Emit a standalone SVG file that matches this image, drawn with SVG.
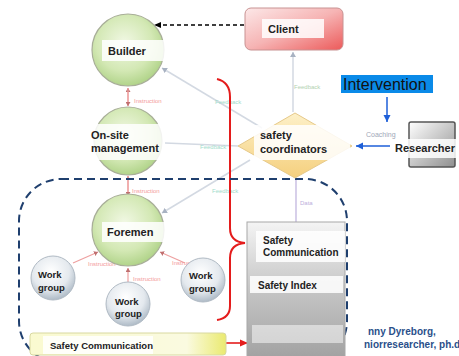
<svg xmlns="http://www.w3.org/2000/svg" width="459" height="356" viewBox="0 0 459 356">
<style>
.lbl{font-family:"Liberation Sans",Arial,sans-serif;font-weight:bold;fill:#222;}
.box{fill:#fff;opacity:0.85;}
.faint{font-family:"Liberation Sans",Arial,sans-serif;font-size:6px;}
.fb{fill:#9fdccb;}
.ins{fill:#f39a9a;}
.conn{stroke:#d3d9e2;stroke-width:1.5;fill:none;}
.red{stroke:#eea0a0;stroke-width:1.2;fill:none;}
</style>
<defs>
<radialGradient id="green" cx="0.45" cy="0.4" r="0.65">
<stop offset="0" stop-color="#f1f8e4"/><stop offset="0.6" stop-color="#d3e8b4"/><stop offset="1" stop-color="#a9cf80"/>
</radialGradient>
<radialGradient id="grey" cx="0.45" cy="0.35" r="0.7">
<stop offset="0" stop-color="#ffffff"/><stop offset="0.6" stop-color="#e4e9ee"/><stop offset="1" stop-color="#a3b1be"/>
</radialGradient>
<linearGradient id="client" x1="0" y1="0" x2="1" y2="1">
<stop offset="0" stop-color="#fce8e8"/><stop offset="0.5" stop-color="#f6b4b4"/><stop offset="1" stop-color="#ec5a5a"/>
</linearGradient>
<linearGradient id="res" x1="0" y1="0" x2="1" y2="1">
<stop offset="0" stop-color="#ffffff"/><stop offset="1" stop-color="#8f8f8f"/>
</linearGradient>
<linearGradient id="dia" x1="0" y1="0" x2="0" y2="1">
<stop offset="0" stop-color="#fdf0c8"/><stop offset="1" stop-color="#f5d07e"/>
</linearGradient>
<linearGradient id="panel" x1="0" y1="0" x2="0" y2="1">
<stop offset="0" stop-color="#f4f4f4"/><stop offset="0.5" stop-color="#c4c4c4"/><stop offset="1" stop-color="#a0a0a0"/>
</linearGradient>
<linearGradient id="bar" x1="0" y1="0" x2="1" y2="0">
<stop offset="0" stop-color="#fafad0"/><stop offset="0.8" stop-color="#fafae0"/><stop offset="1" stop-color="#eaea70"/>
</linearGradient>
<marker id="blk" markerWidth="8" markerHeight="8" refX="7" refY="4" orient="auto" markerUnits="userSpaceOnUse"><path d="M0,1 L7,4 L0,7 z" fill="#000"/></marker>
<marker id="blu" markerWidth="8" markerHeight="8" refX="7" refY="4" orient="auto" markerUnits="userSpaceOnUse"><path d="M0,0.5 L7,4 L0,7.5 z" fill="#1e5fd8"/></marker>
<marker id="rd" markerWidth="9" markerHeight="9" refX="8" refY="4.5" orient="auto" markerUnits="userSpaceOnUse"><path d="M0,1 L8,4.5 L0,8 z" fill="#e41c1c"/></marker>
<marker id="gy" markerWidth="6" markerHeight="6" refX="5" refY="3" orient="auto" markerUnits="userSpaceOnUse"><path d="M0,0 L5,3 L0,6 z" fill="#a8b2c2"/></marker>
<marker id="sr" markerWidth="5" markerHeight="5" refX="4" refY="2.5" orient="auto" markerUnits="userSpaceOnUse"><path d="M0,0 L4,2.5 L0,5 z" fill="#c07070"/></marker>
</defs>
<rect width="459" height="356" fill="#fff"/>

<g id="connectors">
<line class="conn" x1="293" y1="112" x2="293" y2="52" marker-end="url(#gy)"/>
<line class="conn" x1="262" y1="128" x2="162" y2="68" marker-end="url(#gy)"/>
<line class="conn" x1="238" y1="146" x2="165" y2="143"/>
<line class="conn" x1="250" y1="160" x2="162" y2="213" marker-end="url(#gy)"/>
<line x1="296" y1="178" x2="296" y2="222" stroke="#bdb0dc" stroke-width="1.2"/>
<line class="red" x1="128" y1="106" x2="128" y2="88" marker-end="url(#sr)"/>
<line class="red" x1="128" y1="88" x2="128" y2="106" marker-end="url(#sr)"/>
<line class="red" x1="128" y1="196" x2="128" y2="176" marker-end="url(#sr)"/>
<line class="red" x1="128" y1="176" x2="128" y2="196" marker-end="url(#sr)"/>
<line class="red" x1="73" y1="263" x2="98" y2="252" marker-end="url(#sr)"/>
<line class="red" x1="128" y1="282" x2="128" y2="268" marker-end="url(#sr)"/>
<line class="red" x1="185" y1="263" x2="160" y2="252" marker-end="url(#sr)"/>
<text class="faint ins" x="134" y="103">Instruction</text>
<text class="faint ins" x="132" y="193">Instruction</text>
<text class="faint ins" x="88" y="266">Instruction</text>
<text class="faint ins" x="133" y="281">Instruction</text>
<text class="faint ins" x="172" y="265">Instruction</text>
<text class="faint fb" x="215" y="104">Feedback</text>
<text class="faint fb" x="200" y="149">Feedback</text>
<text class="faint fb" x="212" y="193">Feedback</text>
<text class="faint" x="294" y="89" fill="#b2d2b2">Feedback</text>
<text class="faint" x="300" y="205" fill="#bdb0dc">Data</text>
<text x="366" y="137" font-family="Liberation Sans,Arial,sans-serif" font-size="7" fill="#a0a8b8">Coaching</text>
<line x1="244" y1="25" x2="154" y2="25" stroke="#000" stroke-width="1.3" stroke-dasharray="4,3" marker-end="url(#blk)"/>
<line x1="387" y1="97" x2="387" y2="122" stroke="#1e5fd8" stroke-width="1.5" marker-end="url(#blu)"/>
<line x1="390" y1="146" x2="356" y2="146" stroke="#1e5fd8" stroke-width="1.5" marker-end="url(#blu)"/>
<path d="M217,79 Q230,82 230,97 L230,228 Q230,242 245,243 Q230,244 230,258 L230,306 Q230,318 217,320" stroke="#e41c1c" stroke-width="2" fill="none"/>
<line x1="226" y1="343" x2="248" y2="343" stroke="#e41c1c" stroke-width="1.6" marker-end="url(#rd)"/>
<rect x="19" y="179" width="328" height="184" rx="42" fill="none" stroke="#1f3f6e" stroke-width="2" stroke-dasharray="8,5"/>
</g>

<g id="client">
<rect x="245" y="8" width="98" height="42" rx="6" fill="url(#client)" stroke="#c89292"/>
<rect class="box" x="262" y="19" width="62" height="19"/>
<text class="lbl" x="268" y="33" font-size="11">Client</text>
</g>

<g id="builder">
<circle cx="128" cy="50" r="36" fill="url(#green)" stroke="#a8ae98" stroke-width="1.2"/>
<rect class="box" x="102" y="40" width="63" height="21"/>
<text class="lbl" x="108" y="55" font-size="11">Builder</text>
</g>

<g id="onsite">
<circle cx="128" cy="141" r="34" fill="url(#green)" stroke="#a8ae98" stroke-width="1.2"/>
<rect class="box" x="90" y="124" width="75" height="36"/>
<text class="lbl" x="91" y="139" font-size="11">On-site</text>
<text class="lbl" x="91" y="152" font-size="11">management</text>
</g>

<g id="foremen">
<circle cx="128" cy="230" r="36" fill="url(#green)" stroke="#a8ae98" stroke-width="1.2"/>
<rect class="box" x="102" y="222" width="63" height="20"/>
<text class="lbl" x="107" y="236" font-size="11">Foremen</text>
</g>

<g id="wg1">
<circle cx="53" cy="278" r="22" fill="url(#grey)" stroke="#b0bac4"/>
<text class="lbl" x="38" y="278" font-size="9.5">Work</text>
<text class="lbl" x="38" y="291" font-size="9.5">group</text>
</g>
<g id="wg2">
<circle cx="128" cy="304" r="22" fill="url(#grey)" stroke="#b0bac4"/>
<text class="lbl" x="115" y="305" font-size="9.5">Work</text>
<text class="lbl" x="115" y="317" font-size="9.5">group</text>
</g>
<g id="wg3">
<circle cx="203" cy="280" r="22" fill="url(#grey)" stroke="#b0bac4"/>
<text class="lbl" x="189" y="279" font-size="9.5">Work</text>
<text class="lbl" x="189" y="292" font-size="9.5">group</text>
</g>

<g id="coordinators">
<polygon points="295,113 352,146 295,178 238,146" fill="url(#dia)" stroke="#e6c98a"/>
<rect class="box" x="254" y="125" width="96" height="35"/>
<text class="lbl" x="260" y="139" font-size="11">safety</text>
<text class="lbl" x="260" y="153" font-size="11">coordinators</text>
</g>

<g id="intervention">
<rect x="341" y="75" width="92" height="18" fill="#0a8ae8"/>
<text x="343" y="90" font-family="Liberation Sans,Arial,sans-serif" font-size="16" fill="#111">Intervention</text>
</g>

<g id="researcher">
<rect x="409" y="122" width="46" height="45" rx="2" fill="url(#res)" stroke="#555" stroke-width="1.5"/>
<rect class="box" x="392" y="139" width="67" height="19"/>
<text class="lbl" x="395" y="152" font-size="11">Researcher</text>
</g>

<g id="panel">
<rect x="247" y="222" width="98" height="140" fill="url(#panel)" stroke="#a8a8a8"/>
<rect class="box" x="256" y="231" width="89" height="31"/>
<text class="lbl" x="263" y="244" font-size="10">Safety</text>
<text class="lbl" x="263" y="256" font-size="10">Communication</text>
<rect class="box" x="250" y="276" width="93" height="17"/>
<text class="lbl" x="258" y="289" font-size="10">Safety Index</text>
<rect x="252" y="325" width="91" height="18" fill="#fff" opacity="0.5"/>
</g>

<g id="safetycomm">
<rect x="30" y="333" width="196" height="22" rx="3" fill="url(#bar)" stroke="#d8d8a0"/>
<rect class="box" x="43" y="336" width="110" height="18"/>
<text class="lbl" x="50" y="349" font-size="9.5">Safety Communication</text>
</g>

<g id="author">
<text x="368" y="335" font-family="Liberation Sans,Arial,sans-serif" font-weight="bold" font-size="10" fill="#2a4f8a">nny Dyreborg,</text>
<text x="364" y="348" font-family="Liberation Sans,Arial,sans-serif" font-weight="bold" font-size="10" fill="#2a4f8a">niorresearcher, ph.d</text>
</g>
</svg>
